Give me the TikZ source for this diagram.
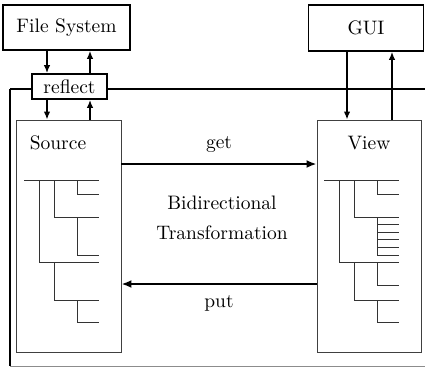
\documentclass[tikz,border=0pt]{standalone}
\usepackage{fontspec}
\setmainfont{lmroman10-regular.otf}
\usetikzlibrary{arrows.meta}
\begin{document}
\begin{tikzpicture}[x=1pt,y=-1pt,
  every node/.style={font=\rmfamily\fontsize{19.5}{23}\selectfont, inner sep=0pt},
  viewbox/.style={draw, line width=0.9pt, draw=black!75},
  flow/.style={-{Latex[length=8pt,width=6.5pt]}, line width=1.5pt},
  mainflow/.style={-{Latex[length=10pt,width=8pt]}, line width=2.4pt},
  treeline/.style={line width=1pt, black!80},
]
\useasboundingbox (0,0) rectangle (425,367);

% external components
\node[draw, line width=1.6pt, minimum width=127pt, minimum height=45pt] (fs) at (66.5,27.5) {File System};
\node[draw, line width=1.6pt, minimum width=115pt, minimum height=46pt] (gui) at (366,28) {GUI};
\node[draw, line width=1.8pt, minimum width=75pt, minimum height=25pt] (reflect) at (69.5,86.5) {reflect};

% source and view panes
\node[viewbox, minimum width=105pt, minimum height=232pt] (src) at (68.5,236) {};
\node[viewbox, minimum width=104.5pt, minimum height=232pt] (view) at (369.25,236) {};
\node (srclbl) at (58,143) {Source};
\node (viewlbl) at (369,143) {View};

% columns of the vertical connectors
\coordinate (colA) at (47,0);
\coordinate (colB) at (90,0);
\coordinate (colC) at (347,0);
\coordinate (colD) at (392,0);

\draw[flow] (fs.south -| colA) -- (reflect.north -| colA);
\draw[flow] (reflect.north -| colB) -- (fs.south -| colB);
\draw[flow] (reflect.south -| colA) -- (src.north -| colA);
\draw[flow] (src.north -| colB) -- (reflect.south -| colB);
\draw[flow] (gui.south -| colC) -- (view.north -| colC);
\draw[flow] (view.north -| colD) -- (gui.south -| colD);

% enclosing frame
\coordinate (fTL) at (10,89);
\coordinate (fBL) at (10,366);
\coordinate (fBR) at (425,366);
\coordinate (fTR) at (425,89);
\draw[line width=1.2pt] (reflect.west |- fTL) -- (fTL);
\draw[line width=1.2pt] (reflect.east |- fTL) -- (fTR);
\draw[line width=2pt] (fTL) -- (fBL);
\draw[line width=0.9pt, black!45] (fBL) -- (fBR);

% bidirectional transformation
\coordinate (getrow) at (0,164);
\coordinate (putrow) at (0,284);
\draw[mainflow] (src.east |- getrow) -- (view.west |- getrow);
\draw[mainflow] (view.west |- putrow) -- (src.east |- putrow);
\node (getlbl) at (219,145) {get};
\node (putlbl) at (219,303) {put};
\node[align=center, font=\rmfamily\fontsize{19.5}{30}\selectfont] (bx) at (222,218) {Bidirectional\\Transformation};

% source tree
\draw[treeline] (24,180) -- (99,180);
\draw[treeline] (39,180) -- (39,262) -- (99,262);
\draw[treeline] (54,180) -- (54,217) -- (99,217);
\draw[treeline] (77,180) -- (77,194) -- (99,194);
\draw[treeline] (77,217) -- (77,255) -- (99,255);
\draw[treeline] (54,262) -- (54,300) -- (99,300);
\draw[treeline] (77,300) -- (77,322) -- (99,322);

% view tree
\draw[treeline] (324,180) -- (399,180);
\draw[treeline] (339,180) -- (339,262) -- (399,262);
\draw[treeline] (354,180) -- (354,217) -- (399,217);
\draw[treeline] (377,180) -- (377,194) -- (399,194);
\draw[treeline] (377,217) -- (377,255);
\foreach \yy in {224.6,232.2,239.8,247.4,255} \draw[treeline] (377,\yy) -- (399,\yy);
\draw[treeline] (354,262) -- (354,300) -- (399,300);
\draw[treeline] (377,262) -- (377,285) -- (399,285);
\draw[treeline] (377,300) -- (377,322) -- (399,322);
\end{tikzpicture}
\end{document}
